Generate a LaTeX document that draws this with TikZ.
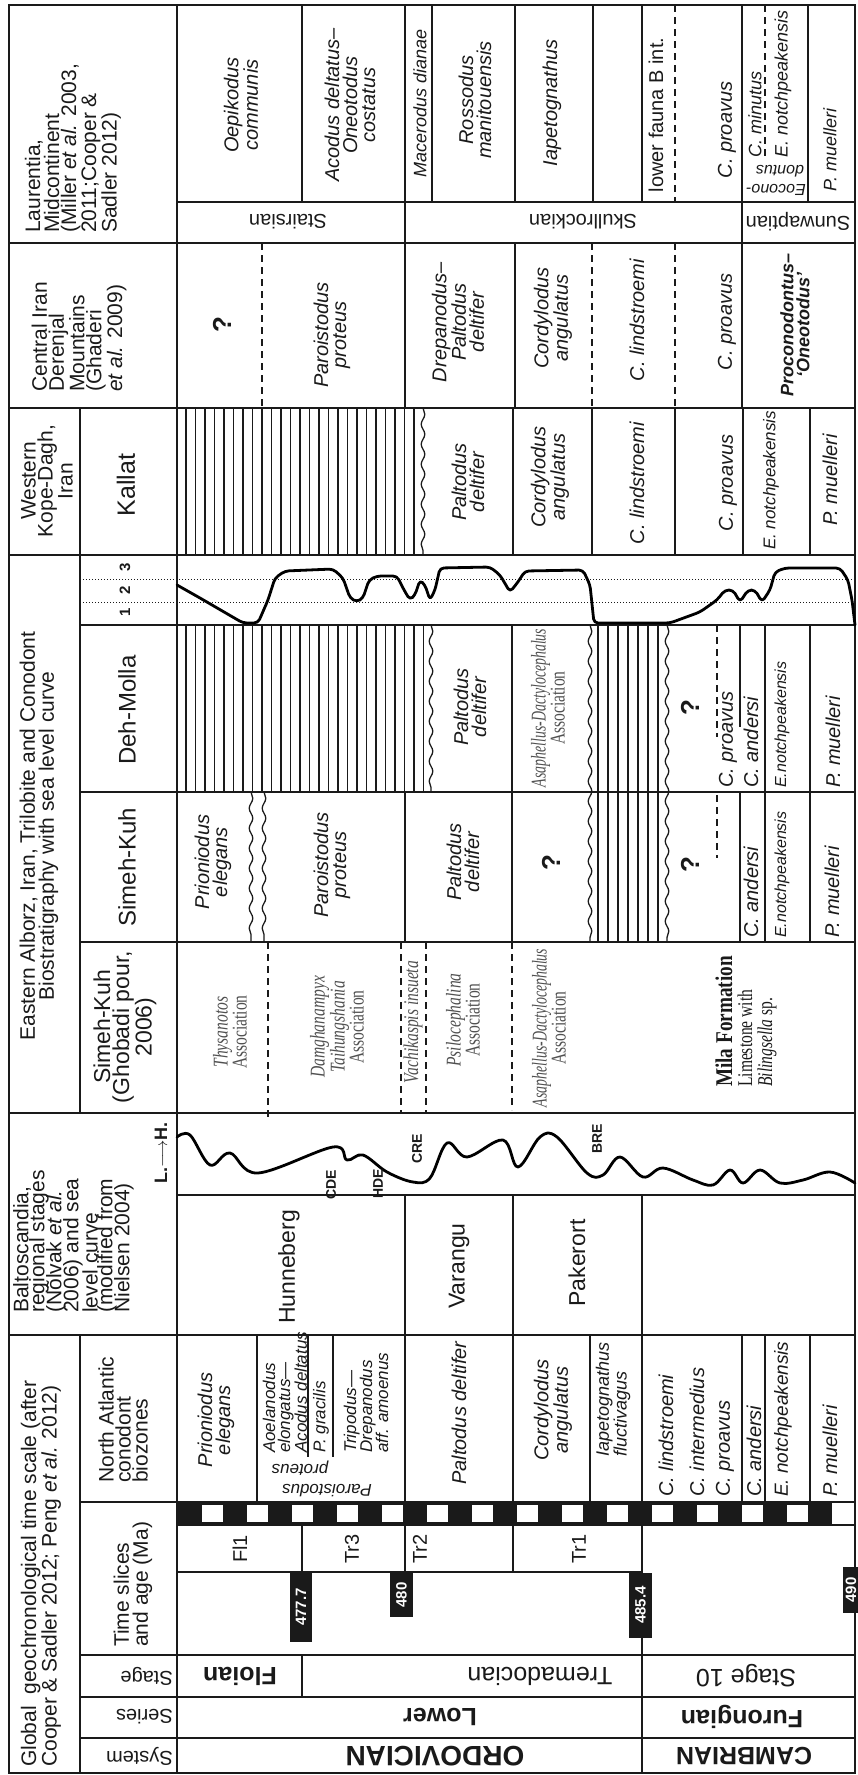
\documentclass[tikz,border=0pt]{standalone}
\usepackage{graphicx}
\usepackage{fontspec}
\setmainfont{Liberation Sans}
\newfontfamily\tnr{Liberation Serif}
\usetikzlibrary{decorations.pathmorphing}
\newcommand\F[2]{\fontsize{#1}{#2}\selectfont}
\newcommand\cz[1]{\scalebox{0.74}[1]{#1}}
\newcommand\czz[1]{\scalebox{0.66}[1]{#1}}
\definecolor{ink}{HTML}{1A1A1A}
\definecolor{trl}{HTML}{505050}
\tikzset{
 ln/.style={line width=1.6pt, draw=ink},
 bd/.style={line width=2.6pt, draw=ink},
 htc/.style={line width=1.2pt, draw=ink},
 dsh/.style={line width=1.5pt, draw=ink, dash pattern=on 7pt off 5pt},
 dts/.style={line width=1pt, draw=ink, dash pattern=on 1.2pt off 1.8pt},
 wav/.style={line width=1.3pt, draw=ink, decorate, decoration={snake, amplitude=1.8pt, segment length=20pt}},
 crv/.style={line width=2.8pt, draw=black, line join=round, line cap=round},
 tx/.style={inner sep=0pt, align=center, rotate=90, text=ink},
 txl/.style={tx, anchor=west, align=left},
 upd/.style={inner sep=0pt, rotate=180, text=ink},
 hdr/.style={font=\F{21}{17}},
 zn/.style={font=\F{20}{18}\itshape},
 zs/.style={font=\F{18}{16}\itshape},
 stg/.style={font=\F{23}{23}},
 tri/.style={text=trl, font=\tnr\F{21}{19}},
 qm/.style={tx, font=\bfseries\F{26}{26}},
 age/.style={tx, text=white, font=\bfseries\F{15}{15}},
}
\begin{document}
\begin{tikzpicture}[x=1pt,y=-1pt]
\useasboundingbox (0,0) rectangle (857,1775);
\fill[white] (0,0) rectangle (857,1775);

% ---------- hatching (hiatus) ----------
\foreach \x in {186,195.5,...,426} \draw[htc] (\x,625) -- (\x,792);
\draw[wav] (431,625) -- (431,792);
\foreach \x in {186,195.5,...,418} \draw[htc] (\x,408) -- (\x,555);
\draw[wav] (423,408) -- (423,555);
\foreach \x in {598,608,...,658} \draw[htc] (\x,625) -- (\x,942);
\draw[wav] (590,625) -- (590,942);
\draw[wav] (667,625) -- (667,942);
\draw[wav] (251,792) -- (251,942);
\draw[wav] (264,792) -- (264,942);

% ---------- checker bar ----------
\fill[ink] (177,1502) rectangle (832,1525);
\foreach \x in {202,247,...,787} \fill[white] (\x,1505) rectangle ++(21,17);

% ---------- dotted level lines ----------
\draw[dts] (80,579) -- (855,579);
\draw[dts] (80,602) -- (855,602);

% ---------- grid: horizontal ----------
\draw[bd] (9,5) rectangle (855,1773);
\draw[bd] (9,243) -- (855,243);
\draw[ln] (177,202) -- (855,202);
\draw[bd] (9,408) -- (855,408);
\draw[bd] (9,555) -- (855,555);
\draw[ln] (80,625) -- (855,625);
\draw[ln] (80,792) -- (855,792);
\draw[ln] (80,942) -- (855,942);
\draw[bd] (9,1113) -- (855,1113);
\draw[ln] (177,1195) -- (855,1195);
\draw[bd] (9,1335) -- (855,1335);
\draw[ln] (80,1502) -- (855,1502);
\draw[ln] (177,1525) -- (855,1525);
\draw[ln] (177,1572) -- (642,1572);
\draw[ln] (80,1655) -- (855,1655);
\draw[ln] (80,1697) -- (855,1697);
\draw[ln] (80,1738) -- (855,1738);

% ---------- grid: vertical ----------
\draw[bd] (177,5) -- (177,1773);
\draw[ln] (80,408) -- (80,1113);
\draw[ln] (80,1335) -- (80,1773);
% Laurentia
\foreach \x in {302,432,515,593,642,808} \draw[ln] (\x,5) -- (\x,202);
\draw[ln] (405,5) -- (405,243);
\draw[ln] (742,5) -- (742,243);
\draw[dsh] (675,5) -- (675,202);
\draw[dsh] (765,5) -- (765,160);
% Central Iran
\draw[dsh] (262,243) -- (262,408);
\draw[ln] (405,243) -- (405,408);
\draw[ln] (515,243) -- (515,408);
\draw[dsh] (592,243) -- (592,408);
\draw[dsh] (675,243) -- (675,408);
\draw[ln] (742,243) -- (742,408);
% Kallat
\foreach \x in {513,592,675,743,810} \draw[ln] (\x,408) -- (\x,555);
% Deh-Molla
\draw[ln] (512,625) -- (512,792);
\draw[dsh] (717,625) -- (717,737);
\draw[ln] (740,625) -- (740,727);
\draw[ln] (765,625) -- (765,792);
\draw[ln] (810,625) -- (810,792);
% Simeh-Kuh
\draw[ln] (405,792) -- (405,942);
\draw[ln] (512,792) -- (512,942);
\draw[dsh] (717,795) -- (717,858);
\draw[ln] (740,792) -- (740,942);
\draw[ln] (765,792) -- (765,942);
\draw[ln] (810,792) -- (810,942);
% Ghobadi
\draw[dsh] (268,942) -- (268,1118);
\draw[dsh] (401,942) -- (401,1113);
\draw[dsh] (426,942) -- (426,1113);
\draw[dsh] (512,942) -- (512,1110);
% Baltoscandia
\foreach \x in {405,513,642} \draw[ln] (\x,1195) -- (\x,1335);
% NA zones
\foreach \x in {257,405,513,590,642,742,765,810} \draw[ln] (\x,1335) -- (\x,1502);
\draw[ln] (308,1335) -- (308,1457);
\draw[ln] (333,1335) -- (333,1457);
% time slices
\foreach \x in {302,405,513} \draw[ln] (\x,1525) -- (\x,1572);
\draw[ln] (642,1525) -- (642,1655);
\draw[ln] (302,1655) -- (302,1697);
\draw[ln] (642,1655) -- (642,1773);

% ---------- sea-level curves ----------
\draw[crv,rounded corners=4pt] (177,585) -- (200,598) -- (243,623) -- (258,623) -- (268,600) -- (275,578) -- (285,571) -- (333,569) -- (343,578) -- (350,598) -- (357,602) -- (363,598) -- (369,580) -- (377,576) -- (397,576) -- (404,590) -- (410,600) -- (415,595) -- (420,580) -- (425,585) -- (430,600) -- (435,590) -- (440,568) -- (490,567) -- (500,575) -- (510,592) -- (518,582) -- (525,571) -- (583,570) -- (590,585) -- (594,623) -- (670,623) -- (700,612) -- (717,600) -- (725,590) -- (733,590) -- (740,602) -- (748,590) -- (755,590) -- (762,602) -- (770,590) -- (775,572) -- (785,568) -- (840,568) -- (848,580) -- (852,600) -- (855,625);
\draw[crv] plot[smooth,tension=0.6] coordinates {(177,1137) (190,1135) (210,1165) (230,1153) (258,1173) (333,1147) (347,1160) (363,1155) (387,1172) (413,1182) (430,1178) (447,1143) (467,1157) (503,1140) (518,1167) (540,1137) (557,1137) (587,1173) (603,1175) (620,1157) (643,1177) (663,1168) (693,1180) (713,1185) (730,1170) (743,1183) (760,1170) (780,1183) (803,1180) (830,1172) (855,1183)};

% ---------- age labels ----------
\fill[ink] (290,1573) rectangle (312,1642);
\node[age] (a1) at (301,1607) {477.7};
\fill[ink] (390,1573) rectangle (413,1617);
\node[age] (a2) at (401.5,1595) {480};
\fill[ink] (843,1567) rectangle (866,1613);
\node[age] (a4) at (851,1590) {490};
\fill[ink] (629,1573) rectangle (652,1638);
\node[age] (a3) at (640.5,1605) {485.4};

% ---------- headers ----------
\node[txl,hdr] (hGlob) at (41,1767) {Global\ \ geochronological time scale (after\\Cooper \& Sadler 2012; Peng \textit{et al.} 2012)};
\node[txl,hdr] (hB1) at (22,1313) {Baltoscandia,};
\node[txl,hdr] (hB2) at (39,1313) {regional stages};
\node[txl,hdr] (hB3) at (56,1313) {(Nõlvak \textit{et al.}};
\node[txl,hdr] (hB4) at (73,1313) {2006) and sea};
\node[txl,hdr] (hB5) at (90,1313) {level curve};
\node[txl,hdr] (hB6) at (107,1313) {(modified from};
\node[txl,hdr] (hB7) at (124,1313) {Nielsen 2004)};
\node[tx,font=\bfseries\F{18}{18}] (hLH) at (161,1153) {L.$\longrightarrow$H.};
\node[tx,hdr] (hAlb) at (39,836) {Eastern Alborz, Iran, Trilobite and Conodont\\Biostratigraphy with sea level curve};
\node[tx,hdr] (hKope) at (47,481) {Western\\Kope-Dagh,\\Iran};
\node[txl,hdr] (hCI) at (79,392) {Central Iran\\Derenjal\\Mountains\\(Ghaderi\\\textit{et al.} 2009)};
\node[txl,hdr] (hLau) at (73,233) {Laurentia,\\Midcontinent\\(Miller \textit{et al.} 2003,\\2011;Cooper \&\\Sadler 2012)};

% ---------- sub labels ----------
\node[upd,anchor=west,font=\F{20}{20}] (lSys) at (173,1756) {System};
\node[upd,anchor=west,font=\F{20}{20}] (lSer) at (173,1717) {Series};
\node[upd,anchor=west,font=\F{20}{20}] (lStg) at (173,1676) {Stage};
\node[txl,font=\F{21}{19}] (lTS) at (133,1647) {Time slices\\and age (Ma)};
\node[txl,font=\F{21}{17}] (lNA) at (123,1483) {North Atlantic\\conodont\\biozones};
\node[tx,font=\F{23}{19}] (lSKG) at (125,1027) {Simeh-Kuh\\(Ghobadi pour,\\2006)};
\node[tx,font=\F{24}{24}] (lSK) at (127,867) {Simeh-Kuh};
\node[tx,font=\F{24}{24}] (lDM) at (127,710) {Deh-Molla};
\node[tx,font=\bfseries\F{15}{15}] (l1) at (125,612) {1};
\node[tx,font=\bfseries\F{15}{15}] (l2) at (125,590) {2};
\node[tx,font=\bfseries\F{15}{15}] (l3) at (125,567) {3};
\node[tx,font=\F{25}{25}] (lKal) at (126,485) {Kallat};

% ---------- system / series / stage ----------
\node[upd,font=\bfseries\F{28}{28}] (sOrd) at (435,1756) {ORDOVICIAN};
\node[upd,font=\bfseries\F{25}{25}] (sCam) at (744,1756) {CAMBRIAN};
\node[upd,font=\bfseries\F{25}{25}] (sLow) at (440,1717) {Lower};
\node[upd,font=\bfseries\F{25}{25}] (sFur) at (742,1717) {Furongian};
\node[upd,font=\bfseries\F{25}{25}] (sFlo) at (240,1676) {Floian};
\node[upd,font=\F{25}{25}] (sTre) at (540,1676) {Tremadocian};
\node[upd,font=\F{25}{25}] (sS10) at (746,1676) {Stage 10};

% ---------- time slices ----------
\node[tx,font=\F{20}{20}] (tF1) at (240,1549) {Fl1};
\node[tx,font=\F{20}{20}] (tT3) at (352,1549) {Tr3};
\node[tx,font=\F{20}{20}] (tT2) at (420,1549) {Tr2};
\node[tx,font=\F{20}{20}] (tT1) at (579,1549) {Tr1};

% ---------- North Atlantic zones ----------
\node[tx,zn] (nPe) at (216,1420) {Prioniodus\\elegans};
\node[txl,font=\F{17}{15}\itshape] (nAe) at (285,1453) {Aoelanodus\\elongatus---\\Acodus deltatus};
\node[txl,font=\F{17}{15}\itshape] (nPg) at (321,1453) {P. gracilis};
\node[txl,font=\F{17}{16}\itshape] (nTd) at (366,1453) {Tripodus---\\Drepanodus\\aff. amoenus};
\node[upd,font=\F{17}{17}\itshape] (nPp1) at (327,1491) {Paroistodus};
\node[upd,font=\F{17}{17}\itshape] (nPp2) at (300,1468) {proteus};
\node[tx,zn] (nPd) at (459,1413) {Paltodus deltifer};
\node[tx,zn] (nCa) at (553,1410) {Cordylodus\\angulatus};
\node[txl,font=\F{18}{16}\itshape] (nIf) at (613,1457) {Iapetognathus\\fluctivagus};
\node[txl,zn] (nCl) at (666,1497) {C. lindstroemi};
\node[txl,zn] (nCi) at (697,1497) {C. intermedius};
\node[txl,zn] (nCp) at (725,1497) {C. proavus};
\node[txl,zn] (nCan) at (754,1497) {C. andersi};
\node[txl,font=\F{19}{19}\itshape] (nEn) at (783,1497) {E. notchpeakensis};
\node[txl,zn] (nPm) at (830,1497) {P. muelleri};

% ---------- Baltoscandia stages ----------
\node[tx,stg] (bHu) at (289,1267) {Hunneberg};
\node[tx,stg] (bVa) at (459,1266) {Varangu};
\node[tx,stg] (bPa) at (577,1263) {Pakerort};
\node[tx,font=\bfseries\F{14}{14}] (eCDE) at (331,1185) {CDE};
\node[tx,font=\bfseries\F{14}{14}] (eHDE) at (378,1184) {HDE};
\node[tx,font=\bfseries\F{14}{14}] (eCRE) at (417,1149) {CRE};
\node[tx,font=\bfseries\F{14}{14}] (eBRE) at (597,1139) {BRE};

% ---------- Ghobadi trilobites ----------
\node[tx,tri] (gTh) at (230,1032) {\cz{\textit{Thysanotos}}\\\cz{Association}};
\node[tx,tri] (gDa) at (337,1027) {\cz{\textit{Damghanampyx}}\\\cz{\textit{Taihungshania}}\\\cz{Association}};
\node[tx,tri] (gVa) at (413,1022) {\cz{\textit{Vachikaspis insueta}}};
\node[tx,tri] (gPs) at (463,1020) {\cz{\textit{Psilocephalina}}\\\cz{Association}};
\node[tx,tri] (gAs) at (549,1028) {\czz{\textit{Asaphellus-Dactylocephalus}}\\\cz{Association}};
\node[txl,text=ink,font=\tnr\F{24}{20}] (gMi) at (746,1087) {\scalebox{0.8}[1]{\textbf{Mila Formation}}\\\cz{\fontsize{21}{20}\selectfont Limestone with}\\\cz{\fontsize{21}{20}\selectfont\textit{Bilingsella} sp.}};

% ---------- Simeh-Kuh ----------
\node[tx,zn] (kPe) at (213,862) {Prioniodus\\elegans};
\node[tx,zn] (kPp) at (332,865) {Paroistodus\\proteus};
\node[tx,zn] (kPd) at (463,862) {Paltodus\\deltifer};
\node[qm] (kQ1) at (551,863) {?};
\node[qm] (kQ2) at (690,865) {?};
\node[txl,zn] (kCa) at (751,938) {C. andersi};
\node[txl,font=\F{16}{16}\itshape] (kEn) at (782,938) {E.notchpeakensis};
\node[txl,zn] (kPm) at (832,938) {P. muelleri};

% ---------- Deh-Molla ----------
\node[tx,zn] (dPd) at (470,707) {Paltodus\\deltifer};
\node[tx,tri] (dAs) at (548,708) {\czz{\textit{Asaphellus-Dactylocephalus}}\\\cz{Association}};
\node[qm] (dQ) at (690,708) {?};
\node[txl,zn] (dCp) at (728,788) {C. proavus};
\node[txl,zn] (dCa) at (751,788) {C. andersi};
\node[txl,font=\F{16}{16}\itshape] (dEn) at (782,788) {E.notchpeakensis};
\node[txl,zn] (dPm) at (833,788) {P. muelleri};

% ---------- Kallat ----------
\node[tx,zn] (ePd) at (468,482) {Paltodus\\deltifer};
\node[tx,zn] (eCa) at (550,477) {Cordylodus\\angulatus};
\node[tx,zn] (eCl) at (637,483) {C. lindstroemi};
\node[tx,zn] (eCp) at (728,483) {C. proavus};
\node[txl,font=\F{17}{17}\itshape] (eEn) at (771,550) {E. notchpeakensis};
\node[tx,zn] (ePm) at (830,480) {P. muelleri};

% ---------- Central Iran ----------
\node[qm] (cQ) at (222,325) {?};
\node[tx,zn] (cPp) at (332,335) {Paroistodus\\proteus};
\node[tx,zn] (cDp) at (458,322) {Drepanodus--\\Paltodus\\deltifer};
\node[tx,zn] (cCa) at (553,318) {Cordylodus\\angulatus};
\node[tx,zn] (cCl) at (637,320) {C. lindstroemi};
\node[tx,zn] (cCp) at (727,322) {C. proavus};
\node[tx,font=\bfseries\F{18}{16}\itshape] (cPO) at (795,325) {Proconodontus--\\`Oneotodus'};

% ---------- Laurentia ----------
\node[tx,zn] (uOc) at (241,105) {Oepikodus\\communis};
\node[tx,zn] (uAd) at (350,105) {Acodus deltatus--\\Oneotodus\\costatus};
\node[tx,zs] (uMd) at (420,103) {Macerodus dianae};
\node[tx,zn] (uRm) at (475,100) {Rossodus\\manitouensis};
\node[tx,zn] (uIa) at (552,103) {Iapetognathus};
\node[tx,font=\F{20}{20}] (uLf) at (656,115) {lower fauna B int.};
\node[tx,zn] (uCp) at (727,130) {C. proavus};
\node[txl,zs] (uCm) at (755,158) {C. minutus};
\node[txl,zs] (uEn) at (783,158) {E. notchpeakensis};
\node[upd,font=\F{16}{14}\itshape] (uEo1) at (776,190) {Eocono-};
\node[upd,font=\F{16}{14}\itshape] (uEo2) at (780,171) {dontus};
\node[tx,zs] (uPm) at (830,150) {P. muelleri};
\node[upd,font=\F{20}{20}] (uSt) at (288,222) {Stairsian};
\node[upd,font=\F{20}{20}] (uSk) at (583,222) {Skullrockian};
\node[upd,font=\F{20}{20}] (uSu) at (798,222) {Sunwaptian};
\end{tikzpicture}
\end{document}
